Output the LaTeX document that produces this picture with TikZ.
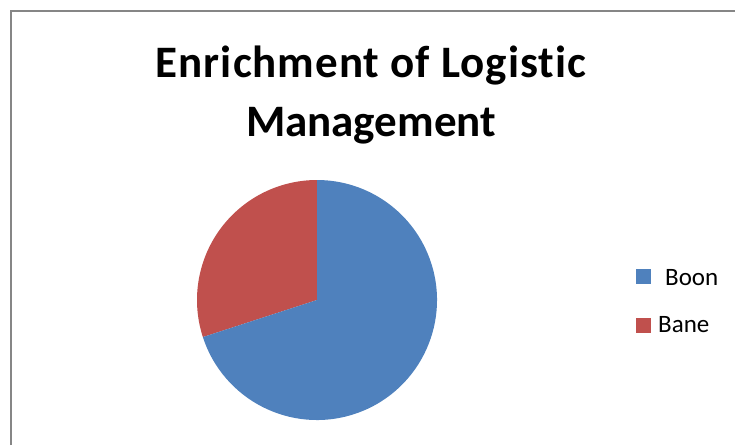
\documentclass[tikz,border=0pt]{standalone}
\usepackage{fontspec}
\setmainfont{Carlito}[Ligatures=NoCommon]
\usepackage{xcolor}
\definecolor{boonblue}{HTML}{4F81BD}
\definecolor{banered}{HTML}{C0504D}
\definecolor{framegray}{HTML}{868686}

\begin{document}
\begin{tikzpicture}[x=1pt,y=1pt,
    key/.style={
      rectangle,
      minimum size=15pt,
      inner sep=0pt
    },
    keytext/.style={
      anchor=base west,
      inner sep=0pt,
      font=\fontsize{25}{30}\selectfont
    },
    slice/.style={draw=none}
  ]
  \useasboundingbox (0,0) rectangle (735,445);
  % frame of the chart area
  \draw[framegray,line width=2pt] (11,0) -- (11,434) -- (735,434);
  % title
  \node[font=\bfseries\fontsize{45}{60}\selectfont,align=center,anchor=base,inner sep=0pt] (title) at (371,308) {{\addfontfeature{LetterSpace=2.2}Enrichment of Logistic}\\Management};
  % pie
  \coordinate (centre) at (317,145);
  \fill[slice,banered] (centre) -- ++(90:120) arc[start angle=90,end angle=198,radius=120] -- cycle;
  \fill[slice,boonblue] (centre) -- ++(198:120) arc[start angle=198,end angle=450,radius=120] -- cycle;
  % legend
  \node[key,fill=boonblue] (boonkey) at (643.5,169) {};
  \node[key,fill=banered] (banekey) at (643.5,119.5) {};
  \node[keytext] (boon) at (665,160) {Boon};
  \node[keytext] (bane) at (658,113) {Bane};
\end{tikzpicture}
\end{document}
